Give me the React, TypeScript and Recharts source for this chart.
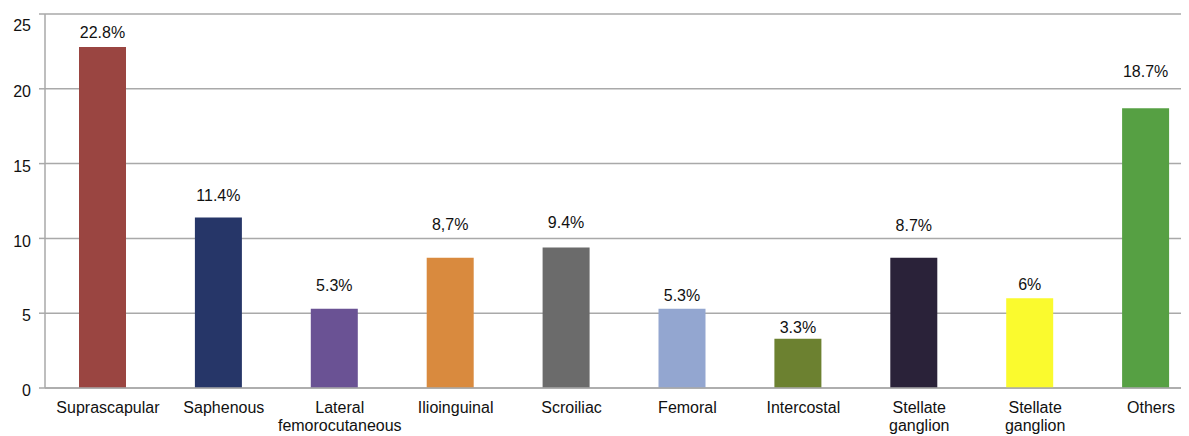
import React from "react";
import { BarChart, Bar, XAxis, YAxis, CartesianGrid, Cell, LabelList } from "recharts";

const categories = [
  "Suprascapular",
  "Saphenous",
  "Lateral femorocutaneous",
  "Ilioinguinal",
  "Scroiliac",
  "Femoral",
  "Intercostal",
  "Stellate ganglion",
  "Stellate ganglion",
  "Others",
];
const values = [22.8, 11.4, 5.3, 8.7, 9.4, 5.3, 3.3, 8.7, 6, 18.7];
const valueLabels = ["22.8%", "11.4%", "5.3%", "8,7%", "9.4%", "5.3%", "3.3%", "8.7%", "6%", "18.7%"];
const barColors = [
  "#9A4541",
  "#263668",
  "#6A5294",
  "#D98A3E",
  "#6B6B6B",
  "#93A6D0",
  "#6C8130",
  "#2A2239",
  "#FAFA2E",
  "#56A043",
];
const yTicks = [0, 5, 10, 15, 20, 25];
// vertical gap (px) between label baseline and bar top, as in the reference
const labelGaps = [9, 16, 17.6, 27.6, 19, 8, 6, 27, 8, 31];

const data = categories.map((c, i) => ({ id: i, name: c, value: values[i], label: valueLabels[i] }));

const FONT = "'Liberation Sans', Arial, Helvetica, sans-serif";
const GRID = "#a9a9a9";

const XTick = (props: any) => {
  const { x, y, payload } = props;
  const name = categories[payload.value] ?? "";
  const lines = name.split(" ");
  return (
    <g transform={`translate(${x + 5},${y})`}>
      {lines.map((l: string, i: number) => (
        <text key={i} x={0} y={24.7 + i * 18} textAnchor="middle" fontSize={16} fill="#111" fontFamily={FONT}>
          {l}
        </text>
      ))}
    </g>
  );
};

const YTick = (props: any) => {
  const { x, y, payload } = props;
  const extra = payload.value === 25 ? 8 : 2.5;
  return (
    <text x={x} y={y + extra} dy="0.36em" textAnchor="end" fontSize={16} fill="#111" fontFamily={FONT}>
      {payload.value}
    </text>
  );
};

const ValueLabel = (props: any) => {
  const { x, y, width, index } = props;
  return (
    <text
      x={x + width / 2}
      y={y - labelGaps[index]}
      textAnchor="middle"
      fontSize={16}
      fill="#111"
      fontFamily={FONT}
    >
      {valueLabels[index]}
    </text>
  );
};

export default function App() {
  return (
    <div style={{ width: 1181, height: 428, overflow: "hidden" }}>
      <BarChart
        width={1196}
        height={428}
        data={data}
        margin={{ top: 6, right: 0, left: 0, bottom: 0 }}
        barSize={47}
      >
        <CartesianGrid vertical={false} stroke={GRID} strokeWidth={1.5} />
        <XAxis
          dataKey="id"
          type="category"
          height={48}
          tick={<XTick />}
          tickLine={false}
          tickSize={0}
          tickMargin={0}
          axisLine={{ stroke: GRID, strokeWidth: 1.5 }}
          interval={0}
        />
        <YAxis
          width={37}
          domain={[0, 25]}
          ticks={yTicks}
          tick={<YTick />}
          tickSize={6}
          tickMargin={8}
          tickLine={{ stroke: GRID, strokeWidth: 1.5 }}
          axisLine={{ stroke: GRID, strokeWidth: 1.5 }}
        />
        <Bar dataKey="value" isAnimationActive={false}>
          {data.map((d, i) => (
            <Cell key={i} fill={barColors[i]} />
          ))}
          <LabelList dataKey="label" content={<ValueLabel />} />
        </Bar>
      </BarChart>
    </div>
  );
}
